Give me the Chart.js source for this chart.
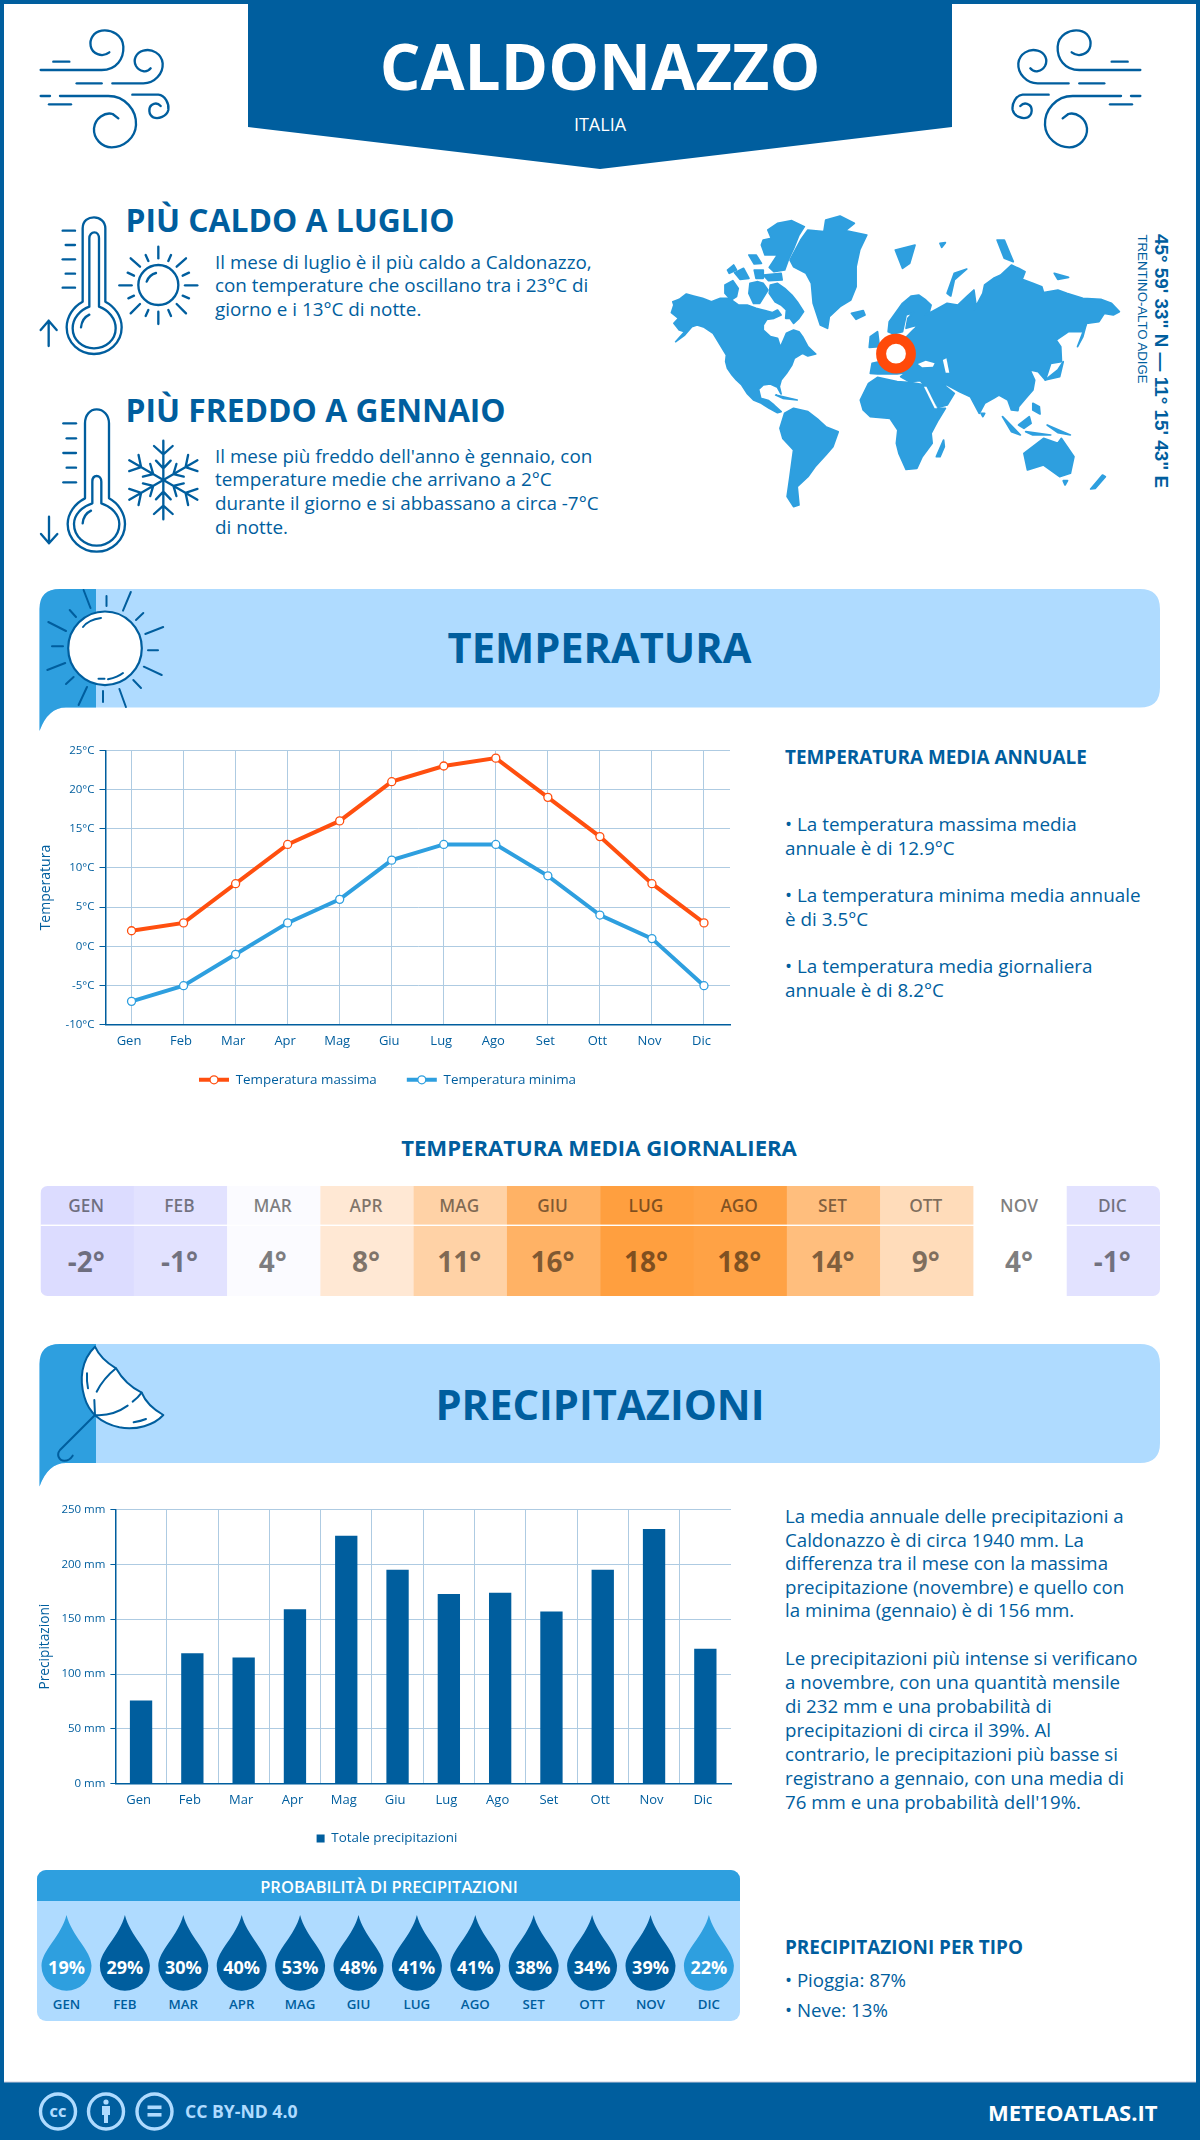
<!DOCTYPE html>
<html lang="it"><head><meta charset="utf-8"><title>Caldonazzo</title>
<script src="https://cdn.jsdelivr.net/npm/chart.js@4/dist/chart.umd.min.js"></script>
<style>
html,body{margin:0;padding:0;background:#fff}
#page{position:relative;width:1200px;height:2140px;overflow:hidden;background:#fff;font-family:"Open Sans",sans-serif}
#art{position:absolute;left:0;top:0}
canvas{position:absolute}
.t{position:absolute;white-space:pre;line-height:1;transform:translateY(-50%)}
.c{transform:translate(-50%,-50%)}
</style></head><body><div id="page">
<svg id="art" width="1200" height="2140" viewBox="0 0 1200 2140" xmlns="http://www.w3.org/2000/svg"></svg>
<canvas id="tempChart" style="left:30px;top:737px" width="720" height="393"></canvas>
<canvas id="rainChart" style="left:30px;top:1496px" width="720" height="364"></canvas>
</div>
<script>
const months = ["Gen","Feb","Mar","Apr","Mag","Giu","Lug","Ago","Set","Ott","Nov","Dic"];
const monthsUpper = ["GEN","FEB","MAR","APR","MAG","GIU","LUG","AGO","SET","OTT","NOV","DIC"];
const tempMax = [2,3,8,13,16,21,23,24,19,14,8,3];
const tempMin = [-7,-5,-1,3,6,11,13,13,9,4,1,-5];
const dailyMean = [-2,-1,4,8,11,16,18,18,14,9,4,-1];
const dailyColors = ["#DCDCFF","#E2E2FF","#FBFBFF","#FFE8D4","#FFD2A6","#FFB265","#FF9F3F","#FFA245","#FFBE7D","#FFDCBA","#FFFFFF","#E2E2FF"];
const rain = [76,119,115,159,226,195,173,174,157,195,232,123];
const rainProb = [19,29,30,40,53,48,41,41,38,34,39,22];

const DARK="#005E9E", MID="#2E9FDF", PALE="#AFDBFF", ORANGE="#FF4F0F", GRID="#AECBE2";
const page=document.getElementById("page"), art=document.getElementById("art");
function T(text,x,y,size,weight,color,center,extra){
  const d=document.createElement("div");d.className="t"+(center?" c":"");d.textContent=text;
  d.style.cssText=`left:${x}px;top:${y}px;font-size:${size}px;font-weight:${weight};color:${color};`+(extra||"");
  page.appendChild(d);return d;
}
let svg="";
function strokes(origin,paths,w,col){
  svg+=`<g transform="translate(${origin[0]} ${origin[1]}) scale(${1/3})" fill="none" stroke="${col||DARK}" stroke-width="${w||7}" stroke-linecap="round" stroke-linejoin="round">`+paths.map(p=>`<path d="${p}"/>`).join("")+`</g>`;
}
// frame and header
svg+=`<rect x="2" y="2" width="1196" height="2136" fill="none" stroke="${DARK}" stroke-width="4"/>`;
svg+=`<polygon points="248,0 952,0 952,127 600,169 248,127" fill="${DARK}"/>`;
// wind icons
const wind=["M32 150H215C260 150 282 115 280 80C278 45 245 28 215 32C190 36 178 58 182 78C186 100 215 115 238 97","M70 125H118","M140 190H215","M247 190H340C375 190 400 160 398 130C395 100 365 85 340 92C318 98 308 120 318 138C328 155 350 160 362 145","M32 228H60","M90 228H235C285 228 320 270 318 315C316 355 280 382 245 382C215 382 190 355 192 325C195 295 225 275 248 282L265 295","M57 253H123","M307 224H385C405 226 418 250 415 270C410 290 385 298 370 292C355 285 355 262 365 255C375 248 385 250 392 258"];
strokes([30,20],wind);
svg+=`<g transform="translate(1181 0) scale(-1 1)">`;strokes([30,20],wind);svg+=`</g>`;
// thermometer + sun
strokes([30,200],["M158 305V85C158 62 175 52 192 52C210 52 226 65 226 85V305C255 320 275 350 275 382C275 430 235 462 192 462C150 462 110 430 110 382C110 350 130 320 158 305Z","M178 320V115C178 105 185 97 193 97C202 97 207 105 207 115V320C235 330 257 355 257 385C257 420 228 445 192 445C157 445 128 420 128 385C128 355 150 330 178 320Z","M153 382C155 365 165 350 178 344","M98 92H135","M107 135H135","M98 178H135","M107 221H135","M98 263H135","M56 438V362M32 390L56 362L80 390",
"M445 255A60 60 0 1 1 325 255A60 60 0 1 1 445 255Z","M350 245C355 232 365 222 378 219","M385 140V175","M385 335V372","M268 256H305","M465 256H502","M302 175L330 200","M468 175L440 200","M302 340L330 312","M468 340L440 312","M347 165L355 183","M423 165L415 183","M293 218L312 227","M477 218L458 227","M295 295L312 287","M477 295L458 287","M347 348L355 330","M423 348L415 330"]);
// thermometer cold + snowflake
const arm="M400 240V122M372 138L400 163L428 138M378 182L400 205L422 182";
strokes([30,400],["M165 295V70C165 45 180 28 200 28C220 28 237 45 237 70V295C265 310 285 340 285 372C285 420 245 455 200 455C155 455 113 420 113 372C113 340 135 310 165 295Z","M187 310V245C187 235 192 228 200 228C208 228 214 235 214 245V310C245 320 268 345 268 372C268 410 235 437 200 437C165 437 132 410 132 372C132 345 155 320 187 310Z","M158 370C160 352 170 338 183 332","M100 70H138","M110 115H138","M100 159H138","M110 203H138","M100 247H138","M57 350V430M33 402L57 430L82 402"]);
svg+=`<g transform="translate(30 400) scale(${1/3})" fill="none" stroke="${DARK}" stroke-width="7" stroke-linecap="round" stroke-linejoin="round">`+[0,60,120,180,240,300].map(a=>`<path transform="rotate(${a} 400 240)" d="${arm}"/>`).join("")+`</g>`;
// world map, traced in a 2.8x/3x view of the region
const land=[
"88,368 95,345 92,335 110,328 130,312 150,318 175,325 200,335 225,325 250,325 275,345 300,345 325,355 350,362 370,368 385,360 395,375 375,385 355,388 345,405 345,420 365,440 385,445 393,472 402,450 410,430 430,420 445,425 455,440 470,470 480,480 492,492 470,498 455,490 432,505 425,525 410,550 395,570 390,590 395,612 385,592 365,582 345,585 332,598 338,625 360,632 375,645 395,665 385,668 362,655 340,640 318,630 300,610 285,585 270,570 258,555 245,535 240,515 242,495 225,465 205,430 180,412 160,405 145,410 125,435 100,455 125,425 110,420 95,400 108,385",
"365,285 385,280 405,295 425,315 440,335 458,365 445,385 430,400 420,385 408,385 410,360 395,345 378,335 362,310",
"358,120 385,100 425,92 460,110 445,135 430,175 415,210 405,240 375,245 362,232 385,195 350,195 340,165 345,150 368,145",
"238,285 260,272 275,295 270,320 255,330 238,310","308,280 330,275 345,280 358,300 335,340 318,340 305,310","245,240 262,225 270,240 250,250","265,248 290,235 305,265 280,268","320,240 345,240 345,265 325,265","345,255 395,250 398,270 360,272","305,195 325,195 340,220 320,222",
"420,210 450,150 470,120 515,125 520,90 560,78 600,100 575,122 635,135 615,180 605,230 605,290 590,330 560,350 530,380 525,415 505,405 485,340 480,280 465,250 430,230",
"392,715 405,670 430,655 470,665 500,690 520,710 555,725 540,770 520,795 490,830 470,860 440,890 445,945 430,950 412,920 420,860 430,780 400,745",
"617,630 640,580 665,562 720,575 760,578 800,585 830,655 855,655 835,690 815,730 818,760 790,800 775,835 745,838 725,790 718,760 722,720 700,685 645,680 625,660",
"695,425 698,395 715,370 735,340 760,318 780,315 800,330 815,345 810,365 800,375 835,355 860,340 890,345 915,320 935,300 940,340 935,360 960,310 965,285 990,265 1010,255 1040,225 1060,235 1078,245 1070,268 1100,280 1125,290 1130,308 1170,300 1195,310 1240,325 1290,328 1320,340 1342,365 1325,375 1300,370 1285,395 1250,400 1240,425 1200,425 1165,450 1178,470 1180,515 1150,520 1135,570 1115,545 1092,540 1105,570 1100,600 1080,625 1060,650 1058,662 1040,660 1030,630 1005,615 990,625 965,640 950,670 925,620 895,605 860,585 850,585 880,610 860,645 835,652 800,590 785,572 755,575 730,560 745,548 720,552 665,552 645,550 650,520 685,512 670,490 700,460 720,440 745,442 765,420 780,405 760,410 745,415 750,385 765,368 745,375 735,425 710,432",
"592,370 625,362 630,375 605,388","645,440 665,425 670,470 642,472","715,180 770,165 755,220 735,235","860,310 880,250 915,237 880,270 870,318","830,800 850,750 852,770 840,800",
"1075,790 1130,745 1170,760 1180,745 1215,800 1205,850 1175,860 1130,825 1085,840","1262,897 1295,855 1303,860 1275,895","1135,570 1170,540 1185,515 1175,560","1225,470 1250,400 1240,440","1060,705 1090,680 1095,700 1075,715","1015,680 1065,735 1040,725","1080,725 1150,735 1100,735","1140,705 1205,735 1170,728","1100,640 1118,650 1120,672 1100,660","955,670 965,670 960,680","1160,250 1200,262 1170,268","1000,150 1020,150 1045,215 1020,205","380,615 440,630 400,625","1185,872 1197,872 1190,885","840,160 855,158 845,172"
];
const seas=["778,522 800,512 825,520 820,530 790,532","848,510 858,505 866,548 856,548","795,590 802,590 832,655 825,655"];
svg+=`<g transform="translate(640 190) scale(${1/2.8} ${1/3})">`+land.map(p=>`<polygon points="${p}" fill="${MID}" stroke="${MID}" stroke-width="5" stroke-linejoin="round"/>`).join("")+seas.map(p=>`<polygon points="${p}" fill="#fff"/>`).join("")+`</g>`;
svg+=`<circle cx="896" cy="353.7" r="14.9" fill="#fff" stroke="#FF4A0A" stroke-width="10"/>`;
// section banners
function banner(top,bottom){
  svg+=`<path d="M39.5 ${top+20}Q39.5 ${top} 60 ${top}H1140Q1160 ${top} 1160 ${top+20}V${bottom-20}Q1160 ${bottom} 1140 ${bottom}H66Q48 ${bottom} 39.5 ${bottom+23.5}Z" fill="${PALE}"/>`;
  svg+=`<path d="M96 ${top}H60Q39.5 ${top} 39.5 ${top+20}V${bottom+23.5}Q48 ${bottom} 66 ${bottom}H96Z" fill="${MID}"/>`;
}
banner(589,707.5);banner(1344,1463);
svg+=`<circle cx="105" cy="648.3" r="36.8" fill="#fff" stroke="${DARK}" stroke-width="2.2"/>`;
svg+=`<g stroke="${DARK}" stroke-width="2" stroke-linecap="round" fill="none">`+["M83.6 590L90.5 608","M130.8 592L123 610.7","M48.3 622L66 631","M163.2 627L145.3 634","M47.3 670L65.2 663","M161.7 675L143.8 666.7","M78.6 705L87 687","M125.9 707L119.4 689","M106.5 596V606","M69.7 610L76 617","M143.3 613L136 620","M52 646.3H63","M148 650.3H158","M73.6 677L66 684","M133.3 680L141 688","M103 691V702","M83 627Q88 620 101 618","M98.5 678.7H104.5","M108 679.3Q118 677 123 673"].map(d=>`<path d="${d}"/>`).join("")+`</g>`;
// umbrella
svg+=`<g transform="translate(36 1340) scale(${1/3})" fill="none" stroke="${DARK}" stroke-width="6" stroke-linecap="round" stroke-linejoin="round"><path fill="#fff" d="M177 20C190 50 215 70 240 85C260 120 290 145 317 158C330 190 355 210 382 225C355 255 300 272 250 262C200 250 160 225 145 170C130 120 135 60 177 20Z"/><path d="M240 85C215 105 195 130 182 155M175 180L177 225M317 158C308 170 300 178 290 185M275 197C250 215 215 228 177 225M153 100C152 115 153 130 156 145M293 247C305 245 318 242 330 237M177 225L72 330C60 345 70 362 85 362C95 362 105 355 110 347"/></g>`;
// daily table background
const cellW=(1160-40.5)/12;
svg+=`<clipPath id="tbl"><rect x="40.5" y="1186" width="1119.5" height="110" rx="7"/></clipPath><g clip-path="url(#tbl)">`+dailyColors.map((c,i)=>`<rect x="${40.5+i*cellW}" y="1186" width="${cellW+.5}" height="110" fill="${c}"/>`).join("")+`<rect x="40" y="1224.6" width="1121" height="1.4" fill="#fff"/></g>`;
// probability panel
svg+=`<clipPath id="pp"><rect x="37" y="1870" width="703" height="151" rx="9"/></clipPath><g clip-path="url(#pp)"><rect x="37" y="1870" width="703" height="151" fill="${PALE}"/><rect x="37" y="1870" width="703" height="31" fill="${MID}"/></g>`;
rainProb.forEach((v,i)=>{const x=66.5+i*58.4;
  svg+=`<path transform="translate(${x} 1965.7)" d="M0-50.7C5-30 25-15 25 0A25 25 0 1 1-25 0C-25-15-5-30 0-50.7Z" fill="${v<25?MID:DARK}"/>`;
});
// footer
svg+=`<rect x="0" y="2082" width="1200" height="58" fill="${DARK}"/><rect x="4" y="2081.5" width="1192" height="1" fill="#ccd"/>`;
[58,106,154.5].forEach(x=>{svg+=`<circle cx="${x}" cy="2111.5" r="17.5" fill="none" stroke="${PALE}" stroke-width="3.4"/>`;});
svg+=`<circle cx="106" cy="2102" r="2.6" fill="${PALE}"/><path d="M102 2106H110V2115H108V2123H104V2115H102Z" fill="${PALE}"/><rect x="147.5" y="2105.5" width="14" height="3.6" fill="${PALE}"/><rect x="147.5" y="2113" width="14" height="3.6" fill="${PALE}"/>`;
art.innerHTML=svg;

// text
T("CALDONAZZO",600,66,64,700,"#fff",true);
T("ITALIA",600,124,18,400,"#fff",true);
T("PIÙ CALDO A LUGLIO",125.5,220,31.8,700,DARK);
T("PIÙ FREDDO A GENNAIO",125.5,410,31.8,700,DARK);
[["Il mese di luglio è il più caldo a Caldonazzo,",262],["con temperature che oscillano tra i 23°C di",285],["giorno e i 13°C di notte.",309],
 ["Il mese più freddo dell'anno è gennaio, con",456],["temperature medie che arrivano a 2°C",479],["durante il giorno e si abbassano a circa -7°C",502.5],["di notte.",527]
].forEach(l=>T(l[0],215,l[1],18.85,400,DARK));
T("45° 59' 33\" N — 11° 15' 43\" E",1161,360.5,18.9,700,DARK,true,"transform:translate(-50%,-50%) rotate(90deg);font-family:'Liberation Sans',sans-serif;");
T("TRENTINO-ALTO ADIGE",1142,308.5,13.2,400,DARK,true,"transform:translate(-50%,-50%) rotate(90deg);font-family:'Liberation Sans',sans-serif;");
T("TEMPERATURA",599.5,648,41.6,700,DARK,true);
T("PRECIPITAZIONI",600,1404,41.7,700,DARK,true);
T("TEMPERATURA MEDIA ANNUALE",785,756.5,18.9,700,DARK);
[["• La temperatura massima media",824],["annuale è di 12.9°C",847.5],["• La temperatura minima media annuale",895],["è di 3.5°C",919],["• La temperatura media giornaliera",966],["annuale è di 8.2°C",990]
].forEach(l=>T(l[0],785,l[1],18.85,400,DARK));
T("TEMPERATURA MEDIA GIORNALIERA",599,1147,22.1,700,DARK,true);
monthsUpper.forEach((m,i)=>{const x=40.5+cellW*(i+.5)-1;
  T(m,x,1205.5,17.3,600,"rgba(0,0,0,.5)",true);
  T(dailyMean[i]+"°",x,1260.5,28,700,"rgba(0,0,0,.5)",true);
});
[["La media annuale delle precipitazioni a",1516],["Caldonazzo è di circa 1940 mm. La",1540],["differenza tra il mese con la massima",1563],["precipitazione (novembre) e quello con",1587],["la minima (gennaio) è di 156 mm.",1610],
 ["Le precipitazioni più intense si verificano",1658],["a novembre, con una quantità mensile",1682],["di 232 mm e una probabilità di",1706],["precipitazioni di circa il 39%. Al",1730],["contrario, le precipitazioni più basse si",1754],["registrano a gennaio, con una media di",1778],["76 mm e una probabilità dell'19%.",1802]
].forEach(l=>T(l[0],785,l[1],18.7,400,DARK));
T("PROBABILITÀ DI PRECIPITAZIONI",389,1887,16.5,600,"#fff",true);
rainProb.forEach((v,i)=>{const x=66.5+i*58.4;
  T(v+"%",x,1966.5,18,700,"#fff",true);
  T(monthsUpper[i],x,2004.7,13.3,600,DARK,true);
});
T("PRECIPITAZIONI PER TIPO",785,1947,18.9,700,DARK);
T("• Pioggia: 87%",785,1980,18.7,400,DARK);
T("• Neve: 13%",785,2010,18.7,400,DARK);
T("CC",58,2112,13,800,PALE,true);
T("CC BY-ND 4.0",185,2111.5,17.6,700,PALE);
T("METEOATLAS.IT",1157.5,2112,22,700,"#fff",false,"transform:translate(-100%,-50%);");

// charts
Chart.defaults.font.family='"Open Sans",sans-serif';
Chart.defaults.color=DARK;
Chart.defaults.devicePixelRatio=1;
const circleMarks={id:"circleMarks",
 afterLayout(c){c.legend.top-=20;c.legend.bottom-=20;},
 afterDraw(c){
  const x=c.ctx;x.save();
  c.legend.legendHitBoxes.forEach((h,i)=>{
    x.beginPath();x.arc(h.left+15,h.top+h.height/2,4,0,Math.PI*2);
    x.fillStyle="#fff";x.fill();x.lineWidth=1.3;x.strokeStyle=c.data.datasets[i].borderColor;x.stroke();
  });x.restore();
}};
const flatLegend=chart=>Chart.defaults.plugins.legend.labels.generateLabels(chart).map(l=>({...l,lineWidth:0}));
new Chart(document.getElementById("tempChart"),{type:"line",plugins:[circleMarks],
  data:{labels:months,datasets:[
    {label:"Temperatura massima",data:tempMax,borderColor:ORANGE,backgroundColor:ORANGE,borderWidth:4,tension:0,pointRadius:4,pointBorderWidth:1.3,pointBackgroundColor:"#fff",pointBorderColor:ORANGE},
    {label:"Temperatura minima",data:tempMin,borderColor:MID,backgroundColor:MID,borderWidth:4,tension:0,pointRadius:4,pointBorderWidth:1.3,pointBackgroundColor:"#fff",pointBorderColor:MID}
  ]},
  options:{responsive:false,animation:false,events:[],
    layout:{padding:{left:15,right:20,top:13.3,bottom:13.5}},
    plugins:{tooltip:{enabled:false},legend:{position:"bottom",labels:{boxWidth:30,boxHeight:4,padding:30,font:{size:13.4},color:DARK,generateLabels:flatLegend}}},
    scales:{
      x:{offset:true,afterFit:s=>{s.height=38.2},grid:{offset:false,color:GRID,lineWidth:1,drawTicks:false},border:{color:DARK,width:1.5},
         ticks:{padding:9,labelOffset:-2.5,maxRotation:0,autoSkip:false,font:{size:13},color:DARK}},
      y:{min:-10,max:25,afterFit:s=>{s.width=60.5},grid:{color:GRID,lineWidth:1,tickColor:DARK,tickLength:6},border:{color:DARK,width:1.5},
         ticks:{stepSize:5,padding:5,font:{size:11.5},color:DARK,callback:v=>v+"°C"},
         title:{display:true,text:"Temperatura",color:DARK,font:{size:14},padding:{top:-7,bottom:0}}}
    }}});
new Chart(document.getElementById("rainChart"),{type:"bar",
  data:{labels:months,datasets:[{label:"Totale precipitazioni",data:rain,backgroundColor:DARK,borderWidth:0,barPercentage:.87,categoryPercentage:.5}]},
  options:{responsive:false,animation:false,events:[],
    layout:{padding:{left:13,right:19,top:13.3,bottom:4.8}},
    plugins:{tooltip:{enabled:false},legend:{position:"bottom",labels:{boxWidth:8,boxHeight:8,padding:10,font:{size:13.4},color:DARK,generateLabels:flatLegend}}},
    scales:{
      x:{afterFit:s=>{s.height=37.9},grid:{color:c=>c.tick?GRID:"transparent",lineWidth:1,drawTicks:false},border:{color:DARK,width:1.5},
         ticks:{padding:9,labelOffset:-2.5,maxRotation:0,autoSkip:false,font:{size:13},color:DARK}},
      y:{min:0,max:250,afterFit:s=>{s.width=72.4},grid:{color:GRID,lineWidth:1,tickColor:DARK,tickLength:5},border:{color:DARK,width:1.5},
         ticks:{stepSize:50,padding:5,font:{size:11.5},color:DARK,callback:v=>v+" mm"},
         title:{display:true,text:"Precipitazioni",color:DARK,font:{size:13.7},padding:{top:-6,bottom:0}}}
    }}});
</script></body></html>
